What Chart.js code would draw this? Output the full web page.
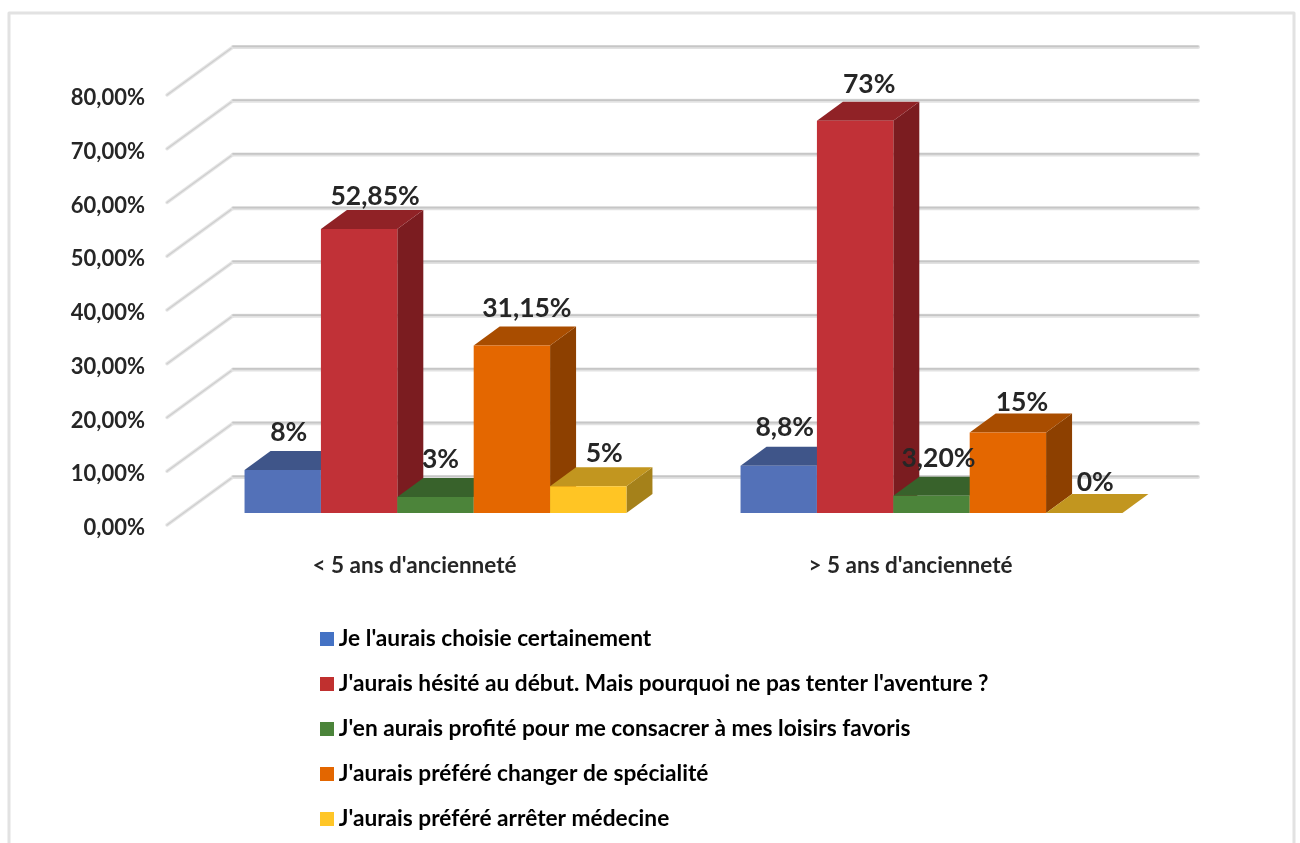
<!DOCTYPE html>
<html>
<head>
<meta charset="utf-8">
<style>html,body{margin:0;padding:0;background:#fff}canvas{display:block}</style>
<script src="https://cdn.jsdelivr.net/npm/chart.js@4"></script>
</head>
<body>
<canvas id="c" width="1300" height="843"></canvas>
<script>
const categories = ["< 5 ans d'ancienneté", "> 5 ans d'ancienneté"];
const seriesNames = [
  "Je l'aurais choisie certainement",
  "J'aurais hésité au début. Mais pourquoi ne pas tenter l'aventure ?",
  "J'en aurais profité pour me consacrer à mes loisirs favoris",
  "J'aurais préféré changer de spécialité",
  "J'aurais préféré arrêter médecine"
];
const choisie = [8, 8.8];
const hesite = [52.85, 73];
const loisirs = [3, 3.2];
const specialite = [31.15, 15];
const arreter = [5, 0];
const choisieLabels = ["8%", "8,8%"];
const hesiteLabels = ["52,85%", "73%"];
const loisirsLabels = ["3%", "3,20%"];
const specialiteLabels = ["31,15%", "15%"];
const arreterLabels = ["5%", "0%"];
const yTickLabels = ["0,00%","10,00%","20,00%","30,00%","40,00%","50,00%","60,00%","70,00%","80,00%"];

const frontColors = ["#5371b8", "#c13137", "#4c843a", "#e46700", "#ffc524"];
const topColors = ["#3f5589", "#902226", "#38622b", "#a94d00", "#c2961f"];
const sideColors = ["#334670", "#7b1c20", "#2d4f22", "#8d4000", "#a5811a"];
const swatchColors = ["#4472c4", "#c0302f", "#4b843a", "#e36600", "#ffc627"];
const labelNudges = [
  [[6,-38],[6,-38.5]],
  [[16,-32.5],[14,-36]],
  [[5,-37.5],[7,-37]],
  [[15,-37],[14,-29.5]],
  [[16,-32.5],[11,-31]]
];

const FONT = "Lato, Carlito, sans-serif";
const TEXT = "#262626";
const DX = 26, DY = -19;

const allValues = [choisie, hesite, loisirs, specialite, arreter];
const allLabels = [choisieLabels, hesiteLabels, loisirsLabels, specialiteLabels, arreterLabels];

function swatch(color){
  const s = document.createElement('canvas');
  s.width = 14; s.height = 14;
  const x = s.getContext('2d');
  x.fillStyle = color; x.fillRect(0,0,14,14);
  return s;
}
function poly(ctx, pts, color){
  ctx.fillStyle = color;
  ctx.beginPath();
  pts.forEach((p,i)=> i ? ctx.lineTo(p[0],p[1]) : ctx.moveTo(p[0],p[1]));
  ctx.closePath();
  ctx.fill();
}
function line(ctx, pts, w, color){
  ctx.strokeStyle = color; ctx.lineWidth = w; ctx.lineCap = 'round'; ctx.lineJoin='round';
  ctx.beginPath();
  pts.forEach((p,i)=> i ? ctx.lineTo(p[0],p[1]) : ctx.moveTo(p[0],p[1]));
  ctx.stroke();
}

const bars3d = {
  id: 'bars3d',
  afterLayout(chart){
    const l = chart.legend;
    l.left = 303.6; l.top = 605; l.right = 1290; l.bottom = 1000;
    l.width = 985; l.height = 396;
  },
  beforeDraw(chart){
    const ctx = chart.ctx;
    ctx.save();
    ctx.fillStyle = '#fff'; ctx.fillRect(0,0,1300,843);
    line(ctx, [[9,850],[9,13],[1294,13],[1294,850]], 3, '#e2e2e2');
    ctx.restore();
  },
  beforeDatasetsDraw(chart){
    const ctx = chart.ctx, y = chart.scales.y;
    ctx.save();
    y.ticks.forEach(t=>{
      const p = y.getPixelForValue(t.value);
      line(ctx, [[167,p+12],[233,p-36]], 3.5, '#e6e6e6');
      line(ctx, [[167,p+12],[233,p-36]], 1.5, '#cfcfcf');
      line(ctx, [[233,p-36],[1198,p-36]], 4, '#e2e2e2');
      line(ctx, [[233,p-36.6],[1198,p-36.6]], 1.6, '#c6c6c6');
    });
    categories.forEach((_,j)=>{
      chart.data.datasets.forEach((ds,i)=>{
        const bar = chart.getDatasetMeta(i).data[j];
        const L = bar.x - bar.width/2, R = bar.x + bar.width/2, T = bar.y, B = bar.base;
        poly(ctx, [[R,T],[R+DX,T+DY],[R+DX,B+DY],[R,B]], sideColors[i]);
        poly(ctx, [[L,T],[L+DX,T+DY],[R+DX,T+DY],[R,T]], topColors[i]);
        bar.draw(ctx);
      });
    });
    ctx.restore();
    return false;
  },
  afterDraw(chart){
    const ctx = chart.ctx;
    ctx.save();
    ctx.font = "bold 26.5px " + FONT;
    ctx.fillStyle = TEXT;
    ctx.textAlign = 'center';
    ctx.textBaseline = 'middle';
    chart.data.datasets.forEach((ds,i)=>{
      chart.getDatasetMeta(i).data.forEach((bar,j)=>{
        const n = labelNudges[i][j];
        ctx.fillText(allLabels[i][j], bar.x + n[0], bar.y + n[1]);
      });
    });
    ctx.restore();
  }
};

new Chart(document.getElementById('c'), {
  type: 'bar',
  data: {
    labels: categories,
    datasets: allValues.map((v,i)=>({
      label: seriesNames[i],
      data: v,
      backgroundColor: frontColors[i],
      borderWidth: 0,
      categoryPercentage: 0.77,
      barPercentage: 1
    }))
  },
  options: {
    responsive: false,
    animation: false,
    layout: { padding: { left: 57.5, right: 120.5, top: 83, bottom: 230 } },
    scales: {
      x: {
        grid: { display: false, drawTicks: false },
        border: { display: false },
        afterFit(s){ s.height = 100; },
        ticks: { padding: 39, labelOffset: -21, color: TEXT, maxRotation: 0,
                 font: { family: FONT, weight: 'bold', size: 22.5 } }
      },
      y: {
        min: 0, max: 80,
        grid: { display: false, drawTicks: false },
        border: { display: false },
        afterFit(s){ s.width = 130; },
        ticks: { stepSize: 10, padding: 42.5, labelOffset: 15, color: TEXT, autoSkip: false,
                 callback: (v,i)=> yTickLabels[i],
                 font: { family: FONT, weight: 'bold', size: 22 } }
      }
    },
    plugins: {
      tooltip: { enabled: false },
      title: { display: false },
      legend: {
        position: 'chartArea',
        align: 'start',
        labels: {
          usePointStyle: true,
          pointStyleWidth: 1.4,
          boxHeight: 14,
          padding: 22.4,
          color: TEXT,
          font: { family: FONT, weight: 'bold', size: 22.7 },
          generateLabels(chart){
            return chart.data.datasets.map((ds,i)=>({
              text: ds.label, datasetIndex: i, hidden: false,
              pointStyle: swatch(swatchColors[i]),
              fillStyle: swatchColors[i], strokeStyle: swatchColors[i], lineWidth: 0
            }));
          }
        }
      }
    }
  },
  plugins: [bars3d]
});
</script>
</body>
</html>
